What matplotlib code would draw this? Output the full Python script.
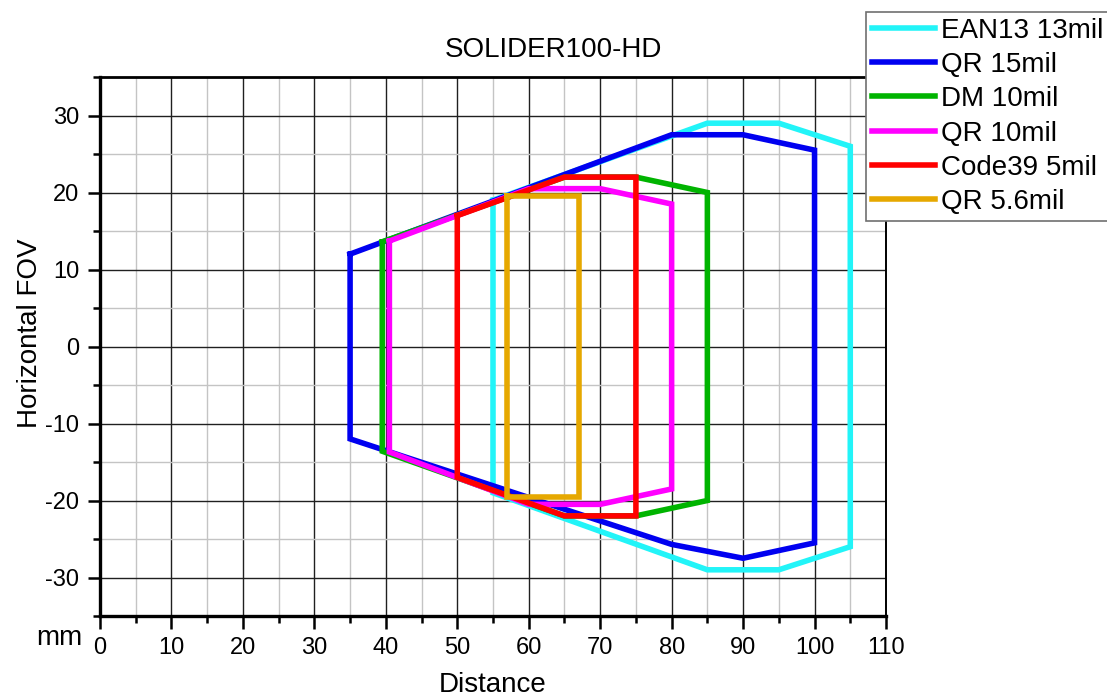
import matplotlib
matplotlib.use("Agg")
import matplotlib.pyplot as plt
from matplotlib.ticker import MultipleLocator

plt.rcParams['font.family'] = ['Liberation Sans', 'DejaVu Sans']
plt.rcParams['axes.unicode_minus'] = False

# reading ranges (distance mm, horizontal FOV mm), one closed outline per code
labels = ["EAN13 13mil", "QR 15mil", "DM 10mil", "QR 10mil", "Code39 5mil", "QR 5.6mil"]
colors = ["#22f4f8", "#0000f0", "#00b400", "#ff00ff", "#ff0000", "#e6a800"]

ean13_x = [55, 85, 95, 105, 105, 95, 85, 55, 55]
ean13_y = [19, 29, 29, 26, -26, -29, -29, -19, 19]

qr15_x = [35, 80, 90, 100, 100, 90, 80, 35, 35]
qr15_y = [12, 27.5, 27.5, 25.5, -25.5, -27.5, -25.7, -12, 12]

dm10_x = [39.5, 65, 75, 85, 85, 75, 65, 39.5, 39.5]
dm10_y = [13.6, 22, 22, 20, -20, -22, -22, -13.6, 13.6]

qr10_x = [40.5, 60, 70, 80, 80, 70, 60, 40.5, 40.5]
qr10_y = [13.7, 20.5, 20.5, 18.5, -18.5, -20.5, -20.5, -13.7, 13.7]

code39_x = [50, 65, 75, 75, 65, 50, 50]
code39_y = [17, 22, 22, -22, -22, -17, 17]

qr56_x = [57, 67, 67, 57, 57]
qr56_y = [19.5, 19.5, -19.5, -19.5, 19.5]

series = [(ean13_x, ean13_y), (qr15_x, qr15_y), (dm10_x, dm10_y),
          (qr10_x, qr10_y), (code39_x, code39_y), (qr56_x, qr56_y)]

fig = plt.figure(figsize=(11.07, 7), dpi=100)
ax = fig.add_axes([100 / 1107, 1 - 616 / 700, 786 / 1107, 539 / 700])

lines = []
for (xs, ys), c, lab in zip(series, colors, labels):
    ln, = ax.plot(xs, ys, color=c, lw=4.0, label=lab, solid_joinstyle='miter', zorder=3)
    lines.append(ln)

ax.set_xlim(0, 110)
ax.set_ylim(-35, 35)
ax.xaxis.set_major_locator(MultipleLocator(10))
ax.xaxis.set_minor_locator(MultipleLocator(5))
ax.yaxis.set_major_locator(MultipleLocator(10))
ax.yaxis.set_minor_locator(MultipleLocator(5))
ax.grid(which='major', color='#202020', lw=1.0, zorder=1)
ax.grid(which='minor', color='#c4c4c4', lw=1.0, zorder=0)
ax.set_axisbelow(True)

ax.tick_params(which='major', direction='out', length=9, width=1.8, labelsize=17, pad=6)
ax.tick_params(which='minor', direction='out', length=5, width=1.8)
ax.tick_params(top=False, right=False)

for side in ['left', 'bottom']:
    ax.spines[side].set_linewidth(2.4)
ax.spines['top'].set_linewidth(2.0)
ax.spines['right'].set_linewidth(1.4)

fig.text(493 / 1107, 1 - 685 / 700, "Distance", fontsize=20, ha='center', va='center')
fig.text(30 / 1107, 1 - 333 / 700, "Horizontal FOV", fontsize=20, ha='center', va='center',
         rotation=90)
fig.text(0.5, 1 - 50 / 700, "SOLIDER100-HD", fontsize=20, ha='center', va='center')
fig.text(59 / 1107, 1 - 638 / 700, "mm", fontsize=20, ha='center', va='center')

leg = fig.legend(handles=lines, loc='upper left', bbox_to_anchor=(866 / 1107, 1 - 12 / 700),
                 fontsize=20, frameon=True, fancybox=False, framealpha=1,
                 edgecolor='#707070', handlelength=2.3, handletextpad=0.2,
                 labelspacing=0.3, borderpad=0.2, borderaxespad=0)
leg.get_frame().set_linewidth(1.2)

fig.savefig("out.png", dpi=100)
